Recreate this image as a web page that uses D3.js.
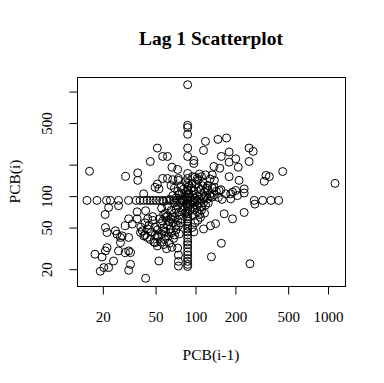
<!DOCTYPE html>
<html><head><meta charset="utf-8">
<script src="https://cdn.jsdelivr.net/npm/d3@7"></script>
<style>body{margin:0;background:#fff}svg{display:block}</style>
</head><body>
<script>
// ---- data: PCB(i-1) (x) and PCB(i) (y), grouped by region of the plot ----
const upperX = [88,88,88,88,88,88, 52,57,62,46,67,74, 16,37,37,30,98,98, 120,149,173,116,256,275, 181,158,203,181,256,212, 139,154,135,181,215,343, 364,333,459,1140,108,96];
const upperY = [1150,471,448,386,285,237, 285,237,237,212,187,178, 171,165,140,153,217,203, 330,345,356,271,285,265, 261,237,225,209,212,187, 190,183,158,152,140,156, 152,137,170,131,161,152];

const midX = [57,62,68,75,100,104, 112,120,130,140,52,53.5, 50,41];
const midY = [146,146,142,146,150,146, 152,158,144,140,129,116, 120,104];

const columnX = [88,88,88,88,88,88, 88,88,88,88,88,88, 88,88,88,88,88,88, 88,88,88,88,88,88, 88,88,88,88,88,88, 88];
const columnY = [163,146,131,120,112,104, 97,90,84,80,75,71, 67,63,60,57,54,51, 48,45,42,39,36,34, 31.5,29,27,25,23.5,22, 21];

const rowX = [15.3,18.2,21.5,23,26.5,31.5, 36,38.5,41,43.5,46,48.5, 51,54,57,61,65,69, 73,77,81,85,93,98, 104,280,324,374,428,283];
const rowY = [90,90,90,90,90,90, 90,90,90,90,90,90, 90,90,90,90,90,90, 90,90,90,90,90,90, 90,90,90,90,90,83];

const lowLeftX = [22.3,26.5,21,21.1,21.7,25.1, 25.8,27.4,27.4,21.7,21.1,17.6, 19.9,26.5,29.8,31.6,32.6,32.6, 20.5,22.3,19.3,31.6,24.3,42.4, 53.4,36.6,36.6,31.6,42.4,38.8, 41.1,43.6,29.8,33.6,28.2,31.6, 75,74,75,75,75,95.6, 52,50,58,60,76];
const lowLeftY = [77,80,66,49.6,44.4,46.1, 42.8,35.5,39.8,31.8,29.6,27.5, 25.9,29.6,28.5,29.6,28.5,22, 20.5,20.5,18.9,19.3,23.7,16.2, 23.7,70,60,60,71.7,44.4, 41.2,39.8,51.5,53.4,41.2,39.8, 51.5,31.5,27,23.5,21.2,49.6, 41,35.5,46,41,43];

const clusterX = [42,45,48,50,52,55, 58,60,62,65,47,50, 53,56,59,63,66,69, 44,46,49,52,55,58, 61,64,67,70,72,68, 54,57,60,63,66,48, 44,40,42,39, 62,68,74,78,72,80, 76,70,64,58];
const clusterY = [55,52,58,50,47,54, 49,45,52,48,45,42, 40,43,38,41,44,39, 48,38,36,33,36,34, 31,35,32,42,47,55, 60,57,62,58,60,63, 60,46,42,50, 64,62,58,55,52,60, 65,68,56,66];

const coreX = [66,70,74,78,82,86, 90,94,98,102,106,110, 114,118,122,126,130,68, 72,76,80,84,92,96, 100,104,108,112,116,120, 124,70,74,78,82,86, 92,96,100,104,108,112, 116,120,126,72,76,80, 84,92,96,100,104,108, 112,118,64,62,66,60, 58,56,95,85,105,75, 115,90,99,80];
const coreY = [125,118,110,122,115,108, 125,118,112,128,120,114, 124,108,118,112,104,100, 95,102,92,98,96,102, 94,99,92,100,95,98, 93,85,80,86,78,84, 82,76,86,80,84,78, 86,81,85,74,70,72, 68,72,66,74,70,66, 73,68,92,80,72,68, 88,76,130,135,140,140, 133,105,90,105];

const rightX = [152,157,171,186,192,203, 209,235,235,186,140,145, 135,150,160,125,135,130, 140,235,166,192,143,131, 116,158,133,260,100,98, 110,105];
const rightY = [112,114,104,104,108,112, 100,116,106,93,120,110, 97,96,92,125,118,98, 102,69,67,60,54,51.5, 48,35,26,22.3,55,45, 62,58];

const xTicks = [20, 50, 100, 200, 500, 1000];
const xTickLabels = ["20", "50", "100", "200", "500", "1000"];
const yTicks = [20, 50, 100, 200, 500, 1000];
const yTickLabels = ["20", "50", "100", "", "500", ""];   // R drops overlapping labels
const titleText = "Lag 1 Scatterplot";
const xLabelText = "PCB(i-1)";
const yLabelText = "PCB(i)";

// ---- build ----
const xs = [].concat(upperX, midX, columnX, rowX, lowLeftX, clusterX, coreX, rightX);
const ys = [].concat(upperY, midY, columnY, rowY, lowLeftY, clusterY, coreY, rightY);
const points = xs.map((x, i) => ({x, y: ys[i]}));

const W = 384, H = 383;
const box = {left: 77, right: 345, top: 77, bottom: 286};
const FONT = "'Liberation Serif','Times New Roman',Times,serif";

function rDomain(vals) {          // R-style 4% expansion on the log scale
  const [a, b] = d3.extent(vals).map(Math.log10);
  const pad = (b - a) * 0.04;
  return [Math.pow(10, a - pad), Math.pow(10, b + pad)];
}
const x = d3.scaleLog().domain(rDomain(xs)).range([box.left, box.right]);
const y = d3.scaleLog().domain(rDomain(ys)).range([box.bottom, box.top]);

const svg = d3.select("body").append("svg").attr("width", W).attr("height", H)
  .style("font-family", FONT);
svg.append("rect").attr("width", W).attr("height", H).attr("fill", "#fff");

// points
svg.append("g").selectAll("circle").data(points).join("circle")
  .attr("cx", d => x(d.x)).attr("cy", d => y(d.y)).attr("r", 4)
  .attr("fill", "none").attr("stroke", "#000").attr("stroke-width", 1);

// box
svg.append("rect").attr("x", box.left + 0.5).attr("y", box.top + 0.5)
  .attr("width", box.right - box.left).attr("height", box.bottom - box.top)
  .attr("fill", "none").attr("stroke", "#000").attr("stroke-width", 1);

// x axis
const gx = svg.append("g").attr("transform", `translate(0.5,${box.bottom + 0.5})`)
  .call(d3.axisBottom(x).tickValues(xTicks).tickSize(8).tickSizeOuter(0).tickPadding(17)
    .tickFormat((d, i) => xTickLabels[i]));
gx.select(".domain").remove();
gx.selectAll("line").attr("stroke", "#000");
gx.selectAll("text").attr("font-size", 15).attr("font-family", FONT).attr("fill", "#000");

// y axis
const gy = svg.append("g").attr("transform", `translate(${box.left + 0.5},0.5)`)
  .call(d3.axisLeft(y).tickValues(yTicks).tickSize(8).tickSizeOuter(0)
    .tickFormat((d, i) => yTickLabels[i]));
gy.select(".domain").remove();
gy.selectAll("line").attr("stroke", "#000");
gy.selectAll("text").attr("font-size", 15).attr("font-family", FONT).attr("fill", "#000")
  .attr("transform", "rotate(-90)").attr("text-anchor", "middle")
  .attr("x", 0).attr("y", -26).attr("dy", 0);

// titles
svg.append("text").attr("x", (box.left + box.right) / 2).attr("y", 45)
  .attr("text-anchor", "middle").attr("font-weight", "bold").attr("font-size", 19.5)
  .text(titleText);
svg.append("text").attr("x", (box.left + box.right) / 2).attr("y", 360)
  .attr("text-anchor", "middle").attr("font-size", 15.5).text(xLabelText);
svg.append("text").attr("transform", `translate(20,${(box.top + box.bottom) / 2}) rotate(-90)`)
  .attr("text-anchor", "middle").attr("font-size", 15.5).text(yLabelText);
</script>
</body></html>
